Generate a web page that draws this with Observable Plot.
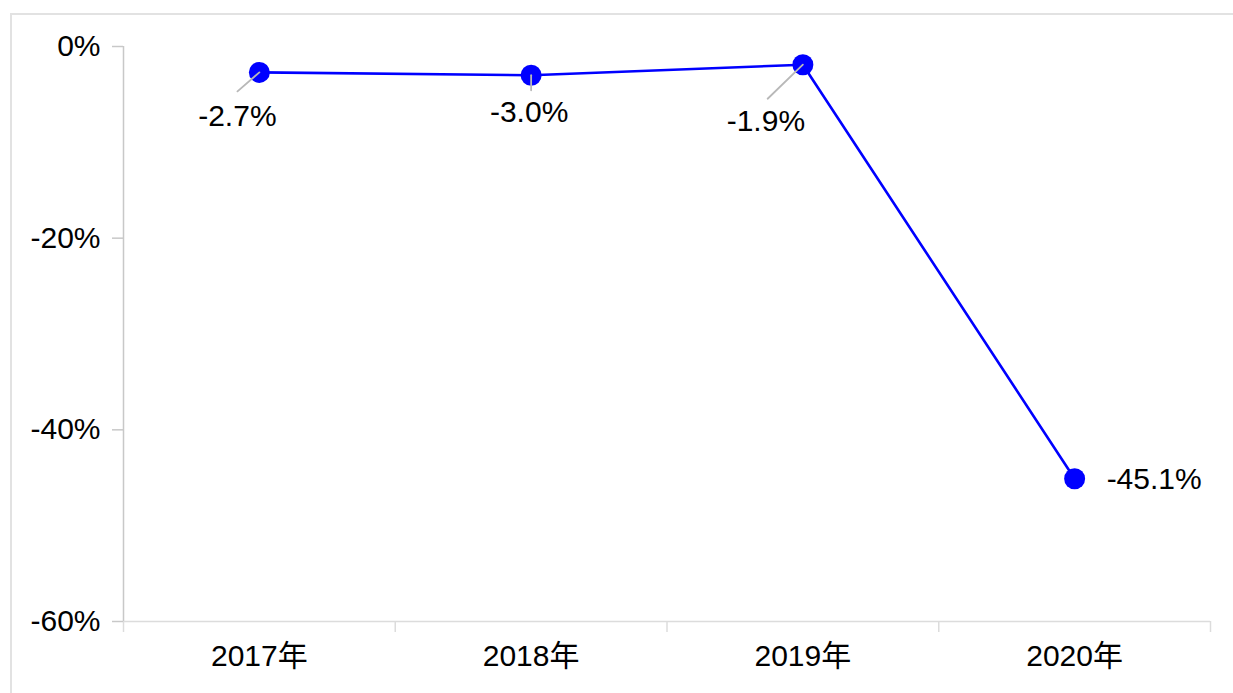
<!DOCTYPE html>
<html>
<head>
<meta charset="utf-8">
<script src="https://cdn.jsdelivr.net/npm/d3@7"></script>
<script src="https://cdn.jsdelivr.net/npm/@observablehq/plot@0.6"></script>
<style>
  html, body { margin: 0; padding: 0; background: #fff; }
  #wrap { position: relative; width: 1233px; height: 693px; overflow: hidden; }
  #frame { position: absolute; left: 10px; top: 13px; width: 1400px; height: 900px;
           border-left: 2px solid #e2e2e2; border-top: 2px solid #e2e2e2; pointer-events: none; }
  #chart { position: absolute; left: 0; top: 0; }
</style>
</head>
<body>
<div id="wrap"><div id="chart"></div><div id="frame"></div></div>
<script>
const years = ["2017年", "2018年", "2019年", "2020年"];
const values = [-2.7, -3.0, -1.9, -45.1];
const valueLabels = ["-2.7%", "-3.0%", "-1.9%", "-45.1%"];
const yTicks = [0, -20, -40, -60];

const data = years.map((year, i) => ({year, i, value: values[i], label: valueLabels[i]}));
const bounds = d3.range(years.length + 1);
const centers = years.map((_, i) => i + 0.5);

const font = "'Liberation Sans', Arial, 'Noto Sans CJK SC', sans-serif";
const blue = "#0000ff";
const leader = {draw(context, l) { context.moveTo(0, 0); context.lineTo(0, -l); }};

function labelMark(i, opts) {
  return Plot.text([data[i]], {x: d => d.i + 0.5, y: "value", text: "label", fontSize: 30, fill: "#000", ...opts});
}
function leaderMark(i, rotate, length) {
  return Plot.vector([data[i]], {x: d => d.i + 0.5, y: "value", rotate, length, anchor: "start",
    shape: leader, stroke: "#b8b8b8", strokeWidth: 1.8});
}

const chart = Plot.plot({
  width: 1233,
  height: 693,
  marginLeft: 123,
  marginRight: 23,
  marginTop: 46,
  marginBottom: 72,
  style: {fontFamily: font, background: "transparent", overflow: "visible"},
  x: {type: "linear", domain: [0, years.length]},
  y: {domain: [-60, 0]},
  marks: [
    Plot.ruleY([-60], {stroke: "#dcdcdc", strokeWidth: 1.5}),
    Plot.axisX({ticks: bounds, tickSize: 11, tickFormat: () => "", label: null, stroke: "#dcdcdc", strokeWidth: 1.5}),
    Plot.ruleX([0], {stroke: "#c8c8c8", strokeWidth: 1.5}),
    Plot.axisY({ticks: yTicks, tickSize: 11, tickPadding: 12, tickFormat: d => d + "%", label: null,
      stroke: "#c8c8c8", strokeWidth: 1.5, fill: "#000", fontSize: 30}),
    Plot.axisX({ticks: centers, tickSize: 0, tickPadding: 23, tickFormat: d => years[Math.floor(d)], label: null,
      fill: "#000", fontSize: 30}),
    Plot.line(data, {x: d => d.i + 0.5, y: "value", stroke: blue, strokeWidth: 2.6}),
    Plot.dot(data, {x: d => d.i + 0.5, y: "value", r: 10.5, fill: blue}),
    leaderMark(0, 229, 29),
    leaderMark(1, 180, 15),
    leaderMark(2, 226, 49),
    labelMark(0, {dx: -22, dy: 44}),
    labelMark(1, {dx: -2, dy: 37}),
    labelMark(2, {dx: -37, dy: 57}),
    labelMark(3, {dx: 32, dy: 1, textAnchor: "start"})
  ]
});
document.getElementById("chart").appendChild(chart);
</script>
</body>
</html>
